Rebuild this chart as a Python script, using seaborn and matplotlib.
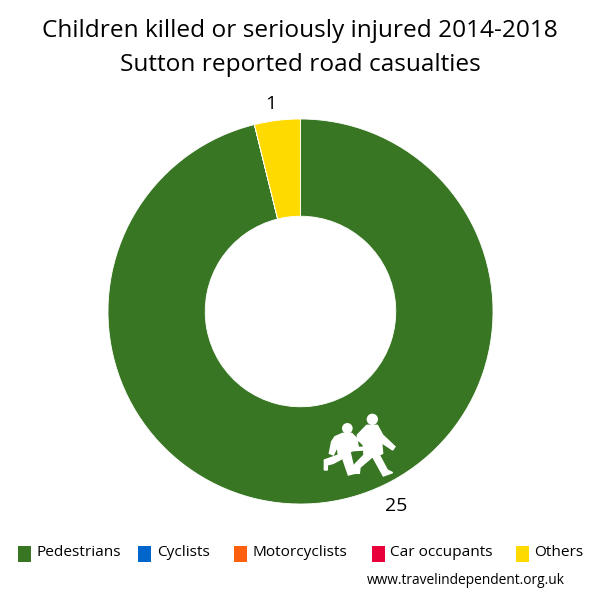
import matplotlib
matplotlib.use("Agg")
import matplotlib.pyplot as plt
import seaborn as sns
from matplotlib.patches import Polygon, Circle, Rectangle

sns.set_theme(style="white")
plt.rcParams['font.family'] = ['Open Sans', 'DejaVu Sans']

# Data
categories = ["Pedestrians", "Cyclists", "Motorcyclists", "Car occupants", "Others"]
casualties = [25, 0, 0, 0, 1]
colours = ["#387623", "#0066CC", "#FF6010", "#E8003A", "#FFDA00"]
title_lines = ["Children killed or seriously injured 2014-2018", "Sutton reported road casualties"]
credit = "www.travelindependent.org.uk"

fig = plt.figure(figsize=(6, 6), dpi=100)
ax = fig.add_axes([108 / 600, 96 / 600, 385 / 600, 385 / 600])

# Clockwise from the top, pedestrians first, others last
wedges, _ = ax.pie(casualties, colors=colours, startangle=90, counterclock=False,
                   radius=1.0, wedgeprops=dict(width=0.505, edgecolor="white", linewidth=0.6))
ax.set_xlim(-1, 1)
ax.set_ylim(-1, 1)
ax.set_aspect("equal")


def px(x, y):
    # Reference pixel to figure fraction
    return x / 600, (600 - y) / 600


fig.text(*px(300, 31), title_lines[0], ha="center", va="center", fontsize=17.6, color="black")
fig.text(*px(300, 65), title_lines[1], ha="center", va="center", fontsize=17.6, color="black")

# Value labels
fig.text(*px(271, 104), str(casualties[4]), ha="center", va="center", fontsize=14, color="black")
fig.text(*px(396, 506), str(casualties[0]), ha="center", va="center", fontsize=14, color="black")


# School children sign, outlined from a 3x crop whose corner is at (300, 390)
def shape(pts):
    fig.add_artist(Polygon([px(300 + a / 3, 390 + b / 3) for a, b in pts], closed=True,
                           facecolor="white", edgecolor="white", linewidth=1.0,
                           transform=fig.transFigure))


def head(a, b, r):
    fig.add_artist(Circle(px(300 + a / 3, 390 + b / 3), r / 3 / 600, facecolor="white",
                          edgecolor="none", transform=fig.transFigure))


shape([(200, 106), (232, 106), (248, 135), (285, 170), (278, 180), (245, 158), (248, 190),
       (238, 195), (262, 240), (278, 248), (250, 258), (240, 240), (218, 200), (180, 232),
       (178, 250), (163, 250), (158, 230), (192, 195), (190, 165), (180, 155), (172, 150),
       (172, 135)])
head(217, 88, 17)
shape([(128, 130), (155, 130), (170, 145), (175, 172), (190, 172), (190, 180), (160, 182),
       (150, 185), (165, 250), (145, 255), (128, 205), (100, 220), (82, 225), (82, 240),
       (73, 240), (73, 210), (115, 195), (112, 170), (100, 195), (88, 190), (95, 155),
       (105, 140)])
head(142, 115, 16)

# Legend
marker_x = [18, 138, 234, 372, 516]
text_x = [36, 157, 252, 390, 534]
for c, col, mx, tx in zip(categories, colours, marker_x, text_x):
    fig.add_artist(Rectangle(px(mx, 562), 13 / 600, 16 / 600, facecolor=col, edgecolor="none",
                             transform=fig.transFigure))
    fig.text(*px(tx, 552), c, ha="left", va="center", fontsize=11.1, color="black")

fig.text(*px(565, 580), credit, ha="right", va="center", fontsize=9.9, color="black")

fig.savefig("out.png", dpi=100, facecolor="white")
